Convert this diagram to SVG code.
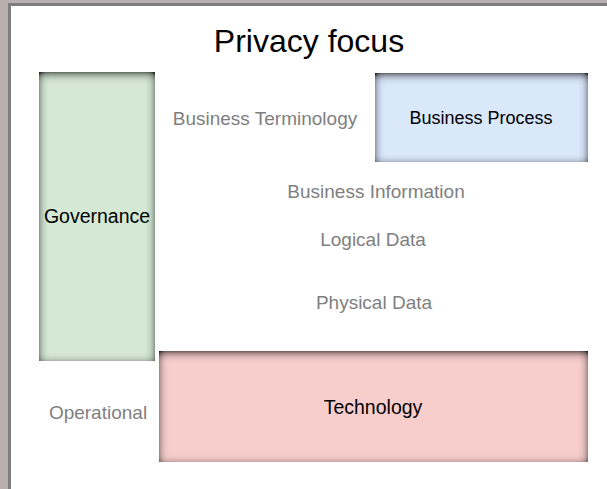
<svg xmlns="http://www.w3.org/2000/svg" width="607" height="489" viewBox="0 0 607 489">
<style>
.lbl{font-family:"Liberation Sans",Arial,sans-serif;font-size:19px;fill:#7f7f7f;text-anchor:middle}
.nl{font-family:"Liberation Sans",Arial,sans-serif;font-size:19.5px;fill:#000;text-anchor:middle}
.title{font-family:"Liberation Sans",Arial,sans-serif;font-size:32px;fill:#000;text-anchor:middle}
</style>
<defs>
<filter id="inset" x="-15%" y="-15%" width="130%" height="130%">
<feFlood flood-color="#222" flood-opacity="1" result="f"/>
<feComposite in="f" in2="SourceAlpha" operator="out" result="o"/>
<feGaussianBlur in="o" stdDeviation="5" result="b"/>
<feOffset in="b" dx="0" dy="1.5" result="bo"/>
<feComponentTransfer in="bo" result="bc"><feFuncA type="linear" slope="1.3"/></feComponentTransfer>
<feComposite in="bc" in2="SourceAlpha" operator="in" result="s"/>
<feMerge><feMergeNode in="SourceGraphic"/><feMergeNode in="s"/></feMerge>
</filter>
</defs>
<rect x="0" y="0" width="607" height="489" fill="#b9afaf"/>
<rect x="8" y="3" width="599" height="486" fill="#7d7d7d"/>
<rect x="11" y="6" width="596" height="483" fill="#ffffff"/>
<text class="title" x="309" y="52">Privacy focus</text>
<g id="governance">
<rect x="39" y="72" width="116" height="289" fill="#d5e8d4" filter="url(#inset)"/>
<text class="nl" x="97" y="223">Governance</text>
</g>
<g id="business-process">
<rect x="375" y="73" width="213" height="89" fill="#dae8fc" filter="url(#inset)"/>
<text class="nl" x="481" y="124" style="font-size:18px">Business Process</text>
</g>
<g id="technology">
<rect x="159" y="351" width="429" height="111" fill="#f8cecc" filter="url(#inset)"/>
<text class="nl" x="373" y="414">Technology</text>
</g>
<g id="labels">
<text class="lbl" x="265" y="125">Business Terminology</text>
<text class="lbl" x="376" y="198">Business Information</text>
<text class="lbl" x="373" y="246">Logical Data</text>
<text class="lbl" x="374" y="309">Physical Data</text>
<text class="lbl" x="98" y="419">Operational</text>
</g>
<g id="connectors"></g>
</svg>
